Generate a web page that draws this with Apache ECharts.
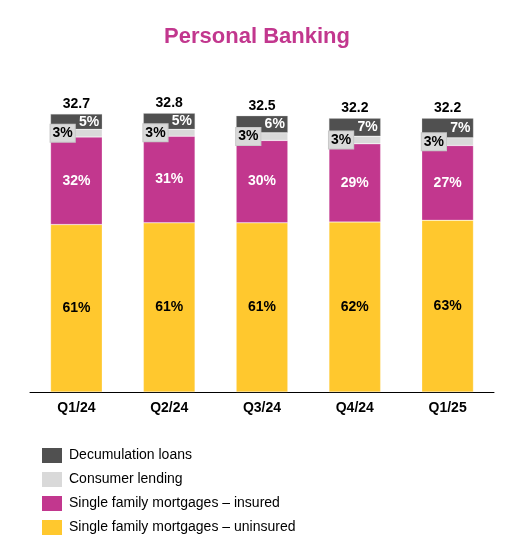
<!DOCTYPE html>
<html>
<head>
<meta charset="utf-8">
<script src="https://cdn.jsdelivr.net/npm/echarts@6/dist/echarts.min.js"></script>
<style>
html,body{margin:0;padding:0;background:#fff;}
#chart{width:514px;height:557px;}
</style>
</head>
<body>
<div id="chart"></div>
<script>
var categories = ['Q1/24', 'Q2/24', 'Q3/24', 'Q4/24', 'Q1/25'];
var totals = ['32.7', '32.8', '32.5', '32.2', '32.2'];
// segment values ($B)
var uninsured = [19.7, 19.9, 19.9, 20.0, 20.2];
var insured = [10.3, 10.2, 9.7, 9.2, 8.8];
var consumer = [0.9, 0.8, 0.9, 0.9, 0.9];
var decumulation = [1.8, 1.9, 2.0, 2.1, 2.3];
// percentage labels
var uninsuredPct = ['61%', '61%', '61%', '62%', '63%'];
var insuredPct = ['32%', '31%', '30%', '29%', '27%'];
var consumerPct = ['3%', '3%', '3%', '3%', '3%'];
var decumulationPct = ['5%', '5%', '6%', '7%', '7%'];

var FONT = 'Liberation Sans, Arial, sans-serif';
var chart = echarts.init(document.getElementById('chart'));

function lbl(arr) { return function (p) { return arr[p.dataIndex]; }; }

chart.setOption({
  animation: false,
  textStyle: { fontFamily: FONT },
  title: {
    text: 'Personal Banking',
    left: 'center',
    top: 21,
    textStyle: { color: '#C2378E', fontSize: 22, fontWeight: 'bold', fontFamily: FONT }
  },
  legend: {
    orient: 'vertical',
    left: 42,
    top: 448,
    padding: 0,
    itemWidth: 20,
    itemHeight: 15,
    itemGap: 9,
    icon: 'rect',
    itemStyle: { borderWidth: 0 },
    textStyle: { fontSize: 14, color: '#000', fontFamily: FONT, padding: [0, 0, 0, 2] },
    data: ['Decumulation loans', 'Consumer lending', 'Single family mortgages \u2013 insured', 'Single family mortgages \u2013 uninsured']
  },
  grid: { left: 30, right: 20, top: 52, bottom: 165 },
  xAxis: {
    type: 'category',
    data: categories,
    axisLine: { lineStyle: { color: '#000', width: 1 } },
    axisTick: { show: false },
    axisLabel: { fontSize: 14, fontWeight: 'bold', color: '#000', fontFamily: FONT, margin: 9 }
  },
  yAxis: {
    type: 'value',
    min: 0,
    max: 40,
    show: false,
    splitLine: { show: false }
  },
  series: [
    {
      name: 'Single family mortgages \u2013 uninsured',
      type: 'bar',
      stack: 'a',
      barWidth: '55.7%',
      data: uninsured,
      itemStyle: { color: '#FFC82E', borderColor: 'rgba(255,255,255,0.5)', borderWidth: 0.5 },
      label: { show: true, position: 'inside', formatter: lbl(uninsuredPct), color: '#000', fontWeight: 'bold', fontSize: 14, fontFamily: FONT }
    },
    {
      name: 'Single family mortgages \u2013 insured',
      type: 'bar',
      stack: 'a',
      data: insured,
      itemStyle: { color: '#C2378E', borderColor: 'rgba(255,255,255,0.5)', borderWidth: 0.5 },
      label: { show: true, position: 'inside', formatter: lbl(insuredPct), color: '#fff', fontWeight: 'bold', fontSize: 14, fontFamily: FONT }
    },
    {
      name: 'Consumer lending',
      type: 'bar',
      stack: 'a',
      data: consumer,
      z: 3,
      itemStyle: { color: '#D9D9D9', borderColor: 'rgba(255,255,255,0.5)', borderWidth: 0.5 },
      label: {
        show: true, position: 'insideLeft', distance: 0, formatter: lbl(consumerPct),
        color: '#000', fontWeight: 'bold', fontSize: 14, fontFamily: FONT,
        backgroundColor: '#D9D9D9', borderColor: '#C8C8C8', borderWidth: 1,
        padding: [2, 2, 1, 2], lineHeight: 14
      }
    },
    {
      name: 'Decumulation loans',
      type: 'bar',
      stack: 'a',
      data: decumulation,
      z: 2,
      itemStyle: { color: '#505050', borderColor: 'rgba(200,200,200,0.6)', borderWidth: 0.5 },
      label: { show: true, position: 'insideRight', distance: 3, formatter: lbl(decumulationPct), color: '#fff', fontWeight: 'bold', fontSize: 14, fontFamily: FONT }
    },
    {
      name: 'totals',
      type: 'bar',
      stack: 'a',
      data: [0, 0, 0, 0, 0],
      itemStyle: { color: 'transparent' },
      label: { show: true, position: 'top', distance: 3, formatter: lbl(totals), color: '#000', fontWeight: 'bold', fontSize: 14, fontFamily: FONT },
      tooltip: { show: false }
    }
  ]
});
</script>
</body>
</html>
